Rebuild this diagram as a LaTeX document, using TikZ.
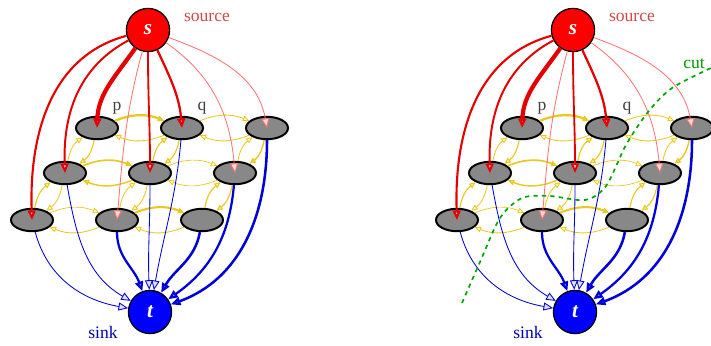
\documentclass[tikz,border=0pt]{standalone}
\usepackage{fontspec}
\setmainfont{Liberation Serif}
\usepackage{xcolor}
\definecolor{linkyellow}{HTML}{EBC820}
\definecolor{pixgray}{HTML}{888888}
\definecolor{srclabred}{HTML}{D04848}
\usetikzlibrary{arrows.meta,shapes.geometric}

\begin{document}
\begin{tikzpicture}[
  x=0.025cm, y=-0.025cm,
  every node/.style={font=\fontsize{12.5}{14}\selectfont},
  term/.style={circle, draw=black, line width=0.9pt, minimum size=1.08cm, inner sep=0pt, text=white, font=\fontsize{15}{15}\selectfont\bfseries\itshape},
  srcnode/.style={term, fill=red},
  sinknode/.style={term, fill=blue},
  pixel/.style={ellipse, draw=black, line width=1.4pt, fill=pixgray, minimum width=1.05cm, minimum height=0.56cm, inner sep=0pt},
  tsrc/.style={-{Triangle[length=2.4mm, width=2mm, fill=red!15]}, red!90!black},
  tsink/.style={-{Triangle[length=2.4mm, width=2mm, fill=blue!12]}, blue!85!black},
  nlink/.style={-{Triangle[length=1.6mm, width=1.4mm, fill=yellow!25]}, linkyellow},
  cutline/.style={dashed, green!65!black, line width=1.2pt},
]
  \useasboundingbox (0,0) rectangle (711,345);

  % two copies of the graph, the right one with the cut
  \foreach \g/\dx in {L/0, R/425} {
    \begin{scope}[shift={(\dx,0)}]
      % terminals
      \node[srcnode]  (\g-s) at (148,30)  {s};
      \node[sinknode] (\g-t) at (150,312) {t};
      \node[text=srclabred] (\g-srclab) at (207,17) {source};
      \node[text=blue!70!black] (\g-snklab) at (103,332) {sink};

      % pixels, rows a (top) to c (bottom)
      \node[pixel] (\g-a1) at (97,128)  {};
      \node[pixel] (\g-a2) at (182,128) {};
      \node[pixel] (\g-a3) at (267,128) {};
      \node[pixel] (\g-b1) at (65,173)  {};
      \node[pixel] (\g-b2) at (150,173) {};
      \node[pixel] (\g-b3) at (235,173) {};
      \node[pixel] (\g-c1) at (32,220)  {};
      \node[pixel] (\g-c2) at (117,220) {};
      \node[pixel] (\g-c3) at (202,220) {};
      \node[text=black!75] (\g-plab) at (117,108) {p};
      \node[text=black!75] (\g-qlab) at (202,108) {q};

      % n-links
      \foreach \u/\v/\wa/\wb in {a1/a2/1.6pt/0.6pt, a2/a3/0.6pt/0.6pt, b1/b2/1.2pt/1.0pt,
          b2/b3/0.5pt/0.5pt, c1/c2/0.5pt/0.6pt, c2/c3/1.5pt/0.6pt,
          a1/b1/0.8pt/0.6pt, a2/b2/0.8pt/0.8pt, a3/b3/1.0pt/0.6pt,
          b1/c1/0.6pt/0.8pt, b2/c2/0.6pt/0.6pt, b3/c3/0.8pt/0.8pt} {
        \draw[nlink, line width=\wa] (\g-\u) to[bend left=22] (\g-\v);
        \draw[nlink, line width=\wb] (\g-\v) to[bend left=22] (\g-\u);
      }

      % t-links to the sink
      \foreach \v/\o/\i/\w in {c1/-75/170/0.6pt, b1/-80/150/0.6pt, c2/-90/110/1.6pt,
          b2/-90/92/0.6pt, a2/-95/80/0.6pt, c3/-100/60/1.8pt,
          b3/-95/35/1.6pt, a3/-90/20/1.8pt}
        \draw[tsink, line width=\w] (\g-\v) to[out=\o, in=\i] (\g-t);

      % t-links from the source
      \foreach \v/\o/\i/\w in {c1/195/92/1.5pt, b1/208/92/1.4pt, a1/235/88/3pt,
          b2/270/90/1.3pt, a2/-65/95/1.6pt}
        \draw[tsrc, line width=\w] (\g-s) to[out=\o, in=\i] (\g-\v.center);
      \foreach \v/\o/\i in {c2/255/85, b3/-35/95, a3/-20/100}
        \draw[tsrc, red!55, line width=0.6pt] (\g-s) to[out=\o, in=\i] (\g-\v.center);
    \end{scope}
  }

  % the cut
  \draw[cutline] plot[smooth] coordinates {(462,303) (480,262) (500,218) (522,198)
    (550,196) (585,200) (606,186) (626,145) (648,112) (672,88) (711,68)};
  \node[text=green!60!black] (cutlab) at (694,64) {cut};
\end{tikzpicture}
\end{document}
